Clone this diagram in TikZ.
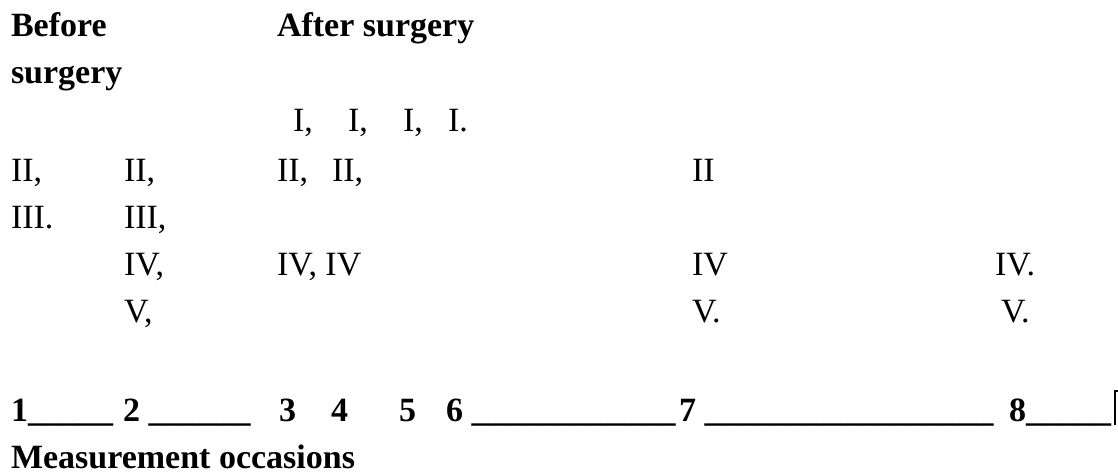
\documentclass[tikz,border=0pt]{standalone}
\usepackage{fontspec}
\setmainfont{Liberation Serif}
\begin{document}
\begin{tikzpicture}[x=1pt,y=-1pt,
  txt/.style={anchor=base west,inner sep=0pt,outer sep=0pt,font=\fontsize{34}{40}\selectfont},
  btxt/.style={txt,font=\fontsize{34}{40}\selectfont\bfseries},
  rule/.style={line width=2pt,line cap=rect}]
\useasboundingbox (0,0) rectangle (1118,472);
% headings
\node[btxt] (before) at (11,36.7) {Before};
\node[btxt] (surg) at (11,83.5) {surgery};
\node[btxt] (after) at (277,36.7) {After surgery};
% row I
\node[txt] (i1) at (293,131.7) {I,};
\node[txt] (i2) at (348,131.7) {I,};
\node[txt] (i3) at (403,131.7) {I,};
\node[txt] (i4) at (448,131.7) {I.};
% row II
\node[txt] (ii1) at (11,181.7) {II,};
\node[txt] (ii2) at (124,181.7) {II,};
\node[txt] (ii3) at (277,181.7) {II,};
\node[txt] (ii4) at (332,181.7) {II,};
\node[txt] (ii5) at (692,181.7) {II};
% row III
\node[txt] (iii1) at (11,228.3) {III.};
\node[txt] (iii2) at (124,228.3) {III,};
% row IV
\node[txt] (iv1) at (124,275.5) {IV,};
\node[txt] (iv2) at (277,275.5) {IV, IV};
\node[txt] (iv3) at (692,275.5) {IV};
\node[txt] (iv4) at (995,275.5) {IV.};
% row V
\node[txt] (v1) at (124,322.5) {V,};
\node[txt] (v2) at (692,322.5) {V.};
\node[txt] (v3) at (1001,322.5) {V.};
% measurement occasions
\node[btxt] (m1) at (11,421.7) {1\_\_\_\_\_};
\node[btxt] (m2) at (123,421.7) {2 \_\_\_\_\_\_};
\node[btxt] (m3) at (279,421.7) {3};
\node[btxt] (m4) at (331,421.7) {4};
\node[btxt] (m5) at (399,421.7) {5};
\node[btxt] (m6) at (446,421.7) {6 \_\_\_\_\_\_\_\_\_\_\_\_};
\node[btxt] (m7) at (679,421.7) {7 \_\_\_\_\_\_\_\_\_\_\_\_\_\_\_\_\_};
\node[btxt] (m8) at (1009,421.7) {8\_\_\_\_\_};
\node[btxt] (mo) at (11,468) {Measurement occasions};
% corner at right end
\coordinate (cb) at (1114.5,424.5);
\coordinate (ct) at (1114.5,391);
\coordinate (cr) at (1118,391);
\draw[line width=2pt] (cb) -- (ct) -- (cr);
\end{tikzpicture}
\end{document}
